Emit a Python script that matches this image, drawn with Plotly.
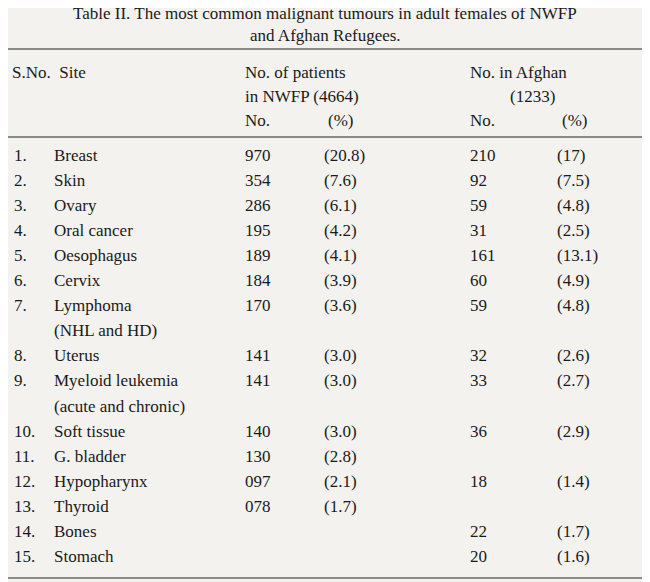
import plotly.graph_objects as go

TITLE = ["Table II. The most common malignant tumours in adult females of NWFP",
         "and Afghan Refugees."]

SNO = ["1.", "2.", "3.", "4.", "5.", "6.", "7.", "", "8.", "9.", "", "10.", "11.", "12.", "13.", "14.", "15."]
SITE = ["Breast", "Skin", "Ovary", "Oral cancer", "Oesophagus", "Cervix", "Lymphoma",
        "(NHL and HD)", "Uterus", "Myeloid leukemia", "(acute and chronic)", "Soft tissue",
        "G. bladder", "Hypopharynx", "Thyroid", "Bones", "Stomach"]
NWFP_NO = ["970", "354", "286", "195", "189", "184", "170", "", "141", "141", "", "140",
           "130", "097", "078", "", ""]
NWFP_PCT = ["(20.8)", "(7.6)", "(6.1)", "(4.2)", "(4.1)", "(3.9)", "(3.6)", "", "(3.0)", "(3.0)",
            "", "(3.0)", "(2.8)", "(2.1)", "(1.7)", "", ""]
AFG_NO = ["210", "92", "59", "31", "161", "60", "59", "", "32", "33", "", "36", "", "18", "",
          "22", "20"]
AFG_PCT = ["(17)", "(7.5)", "(4.8)", "(2.5)", "(13.1)", "(4.9)", "(4.8)", "", "(2.6)", "(2.7)",
           "", "(2.9)", "", "(1.4)", "", "(1.7)", "(1.6)"]

W, H = 650, 582
OFF = 8  # page body margin pushes the figure by ~8px
FONT = dict(family="Liberation Serif, Times New Roman, serif", size=17, color="#1a1a1a")

fig = go.Figure()
ann = []


def txt(x, y, s, anchor="left"):
    ann.append(dict(x=x - OFF, y=y - OFF, text=s, showarrow=False, xanchor=anchor,
                    yanchor="middle", xref="x", yref="y", font=FONT))


txt(W / 2, 13, TITLE[0], "center")
txt(W / 2, 35, TITLE[1], "center")
txt(10, 72, "S.No.  Site")
txt(243, 72, "No. of patients")
txt(243, 96, "in NWFP (4664)")
txt(243, 120, "No.")
txt(326, 120, "(%)")
txt(468, 72, "No. in Afghan")
txt(508, 96, "(1233)")
txt(468, 120, "No.")
txt(560, 120, "(%)")

cols = [(12, SNO), (52, SITE), (243, NWFP_NO), (322, NWFP_PCT), (468, AFG_NO), (555, AFG_PCT)]
for i in range(len(SITE)):
    y = 155 + i * 25.1
    for x, col in cols:
        if col[i]:
            txt(x, y, col[i])

shapes = [dict(type="line", x0=-OFF, x1=W, y0=y - OFF, y1=y - OFF, xref="x", yref="y",
               line=dict(color="#222", width=1.2)) for y in (49, 137, 578)]

fig.add_trace(go.Scatter(x=[0, W], y=[0, H], mode="markers", marker=dict(opacity=0),
                         hoverinfo="skip", showlegend=False))
fig.update_layout(width=W, height=H, margin=dict(l=0, r=0, t=0, b=0),
                  paper_bgcolor="#f3f2ee", plot_bgcolor="#f3f2ee",
                  annotations=ann, shapes=shapes,
                  xaxis=dict(range=[0, W], visible=False, fixedrange=True),
                  yaxis=dict(range=[H, 0], visible=False, fixedrange=True))
fig.write_html("out.html")
